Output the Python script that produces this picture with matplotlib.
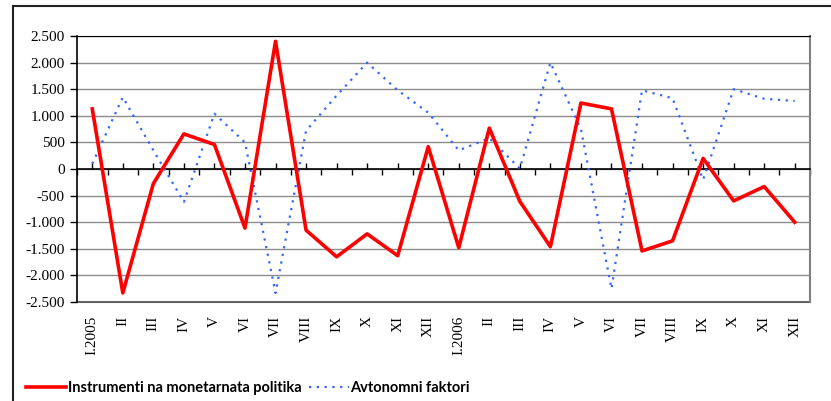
import matplotlib
matplotlib.use("Agg")
import matplotlib.pyplot as plt
import matplotlib.ticker as mticker
from matplotlib.patches import Rectangle
import numpy as np

categories = ["I.2005", "II", "III", "IV", "V", "VI", "VII", "VIII", "IX", "X", "XI", "XII",
              "I.2006", "II", "III", "IV", "V", "VI", "VII", "VIII", "IX", "X", "XI", "XII"]
instrumenti = [1130, -2330, -275, 660, 460, -1110, 2400, -1150, -1650, -1220, -1630, 420,
               -1480, 770, -610, -1460, 1240, 1130, -1540, -1350, 200, -600, -330, -1000]
avtonomni = [100, 1350, 350, -620, 1040, 500, -2330, 720, 1380, 2000, 1480, 1060,
             350, 580, 10, 2000, 750, -2250, 1480, 1330, -200, 1500, 1320, 1280]
series_names = ["Instrumenti na monetarnata politika", "Avtonomni faktori"]
yticks = list(range(-2500, 2501, 500))

W, H = 831, 401
fig = plt.figure(figsize=(W / 100, H / 100), dpi=100)
ax = fig.add_axes([77 / W, 1 - 302 / H, (810 - 77) / W, (302 - 36) / H])

x = np.arange(len(categories))
ax.plot(x, instrumenti, color="#ff0000", lw=2.6, label=series_names[0], zorder=4)
ax.plot(x, avtonomni, color="#3366ff", lw=1.6, ls=(0, (1, 2.5)), label=series_names[1], zorder=3)

ax.set_xlim(-0.5, len(categories) - 0.5)
ax.set_ylim(-2500, 2500)

ax.set_yticks(yticks)
ax.yaxis.grid(True, color="#8c8c8c", lw=1.0)
ax.set_axisbelow(True)

def fmt(v, pos):
    s = f"{abs(int(v)):,}".replace(",", ".")
    return ("-" if v < 0 else "") + s
ax.yaxis.set_major_formatter(mticker.FuncFormatter(fmt))
ax.tick_params(axis="y", direction="out", length=5, width=1, labelsize=11, pad=4)
for lab in ax.get_yticklabels():
    lab.set_fontfamily("Liberation Serif")

ax.spines["bottom"].set_position(("data", 0))
ax.spines["bottom"].set_color("black")
ax.spines["bottom"].set_linewidth(1.2)
ax.set_xticks(x)
ax.set_xticks(np.arange(-0.5, len(categories), 1.0), minor=True)
ax.tick_params(axis="x", which="major", direction="in", length=4, width=1, labelbottom=False)
ax.tick_params(axis="x", which="minor", direction="out", length=4, width=1, labelbottom=False)

ax.spines["top"].set_color("black")
ax.spines["right"].set_color("#808080")
ax.spines["right"].set_linewidth(1.5)
ax.spines["left"].set_linewidth(1.2)

sec = ax.secondary_xaxis("bottom")
sec.set_xticks(x)
sec.set_xticklabels(categories, rotation=90, fontfamily="Liberation Serif", fontsize=11)
sec.tick_params(length=0, pad=10)
sec.spines["bottom"].set_color("#606060")
sec.spines["bottom"].set_linewidth(1.5)

leg = fig.legend(loc="center left", bbox_to_anchor=(13 / W, 1 - 388 / H), ncol=2, frameon=False,
                 handlelength=2.75, handletextpad=0.1, columnspacing=0.5,
                 prop={"family": "Lato", "size": 10.5, "weight": "bold"})

fig.patches.append(Rectangle((12.5 / W, -0.1), 1.0, 1 - 5.5 / H + 0.1, transform=fig.transFigure,
                             fill=False, edgecolor="#222222", lw=1.5))

fig.savefig("out.png", dpi=100)
